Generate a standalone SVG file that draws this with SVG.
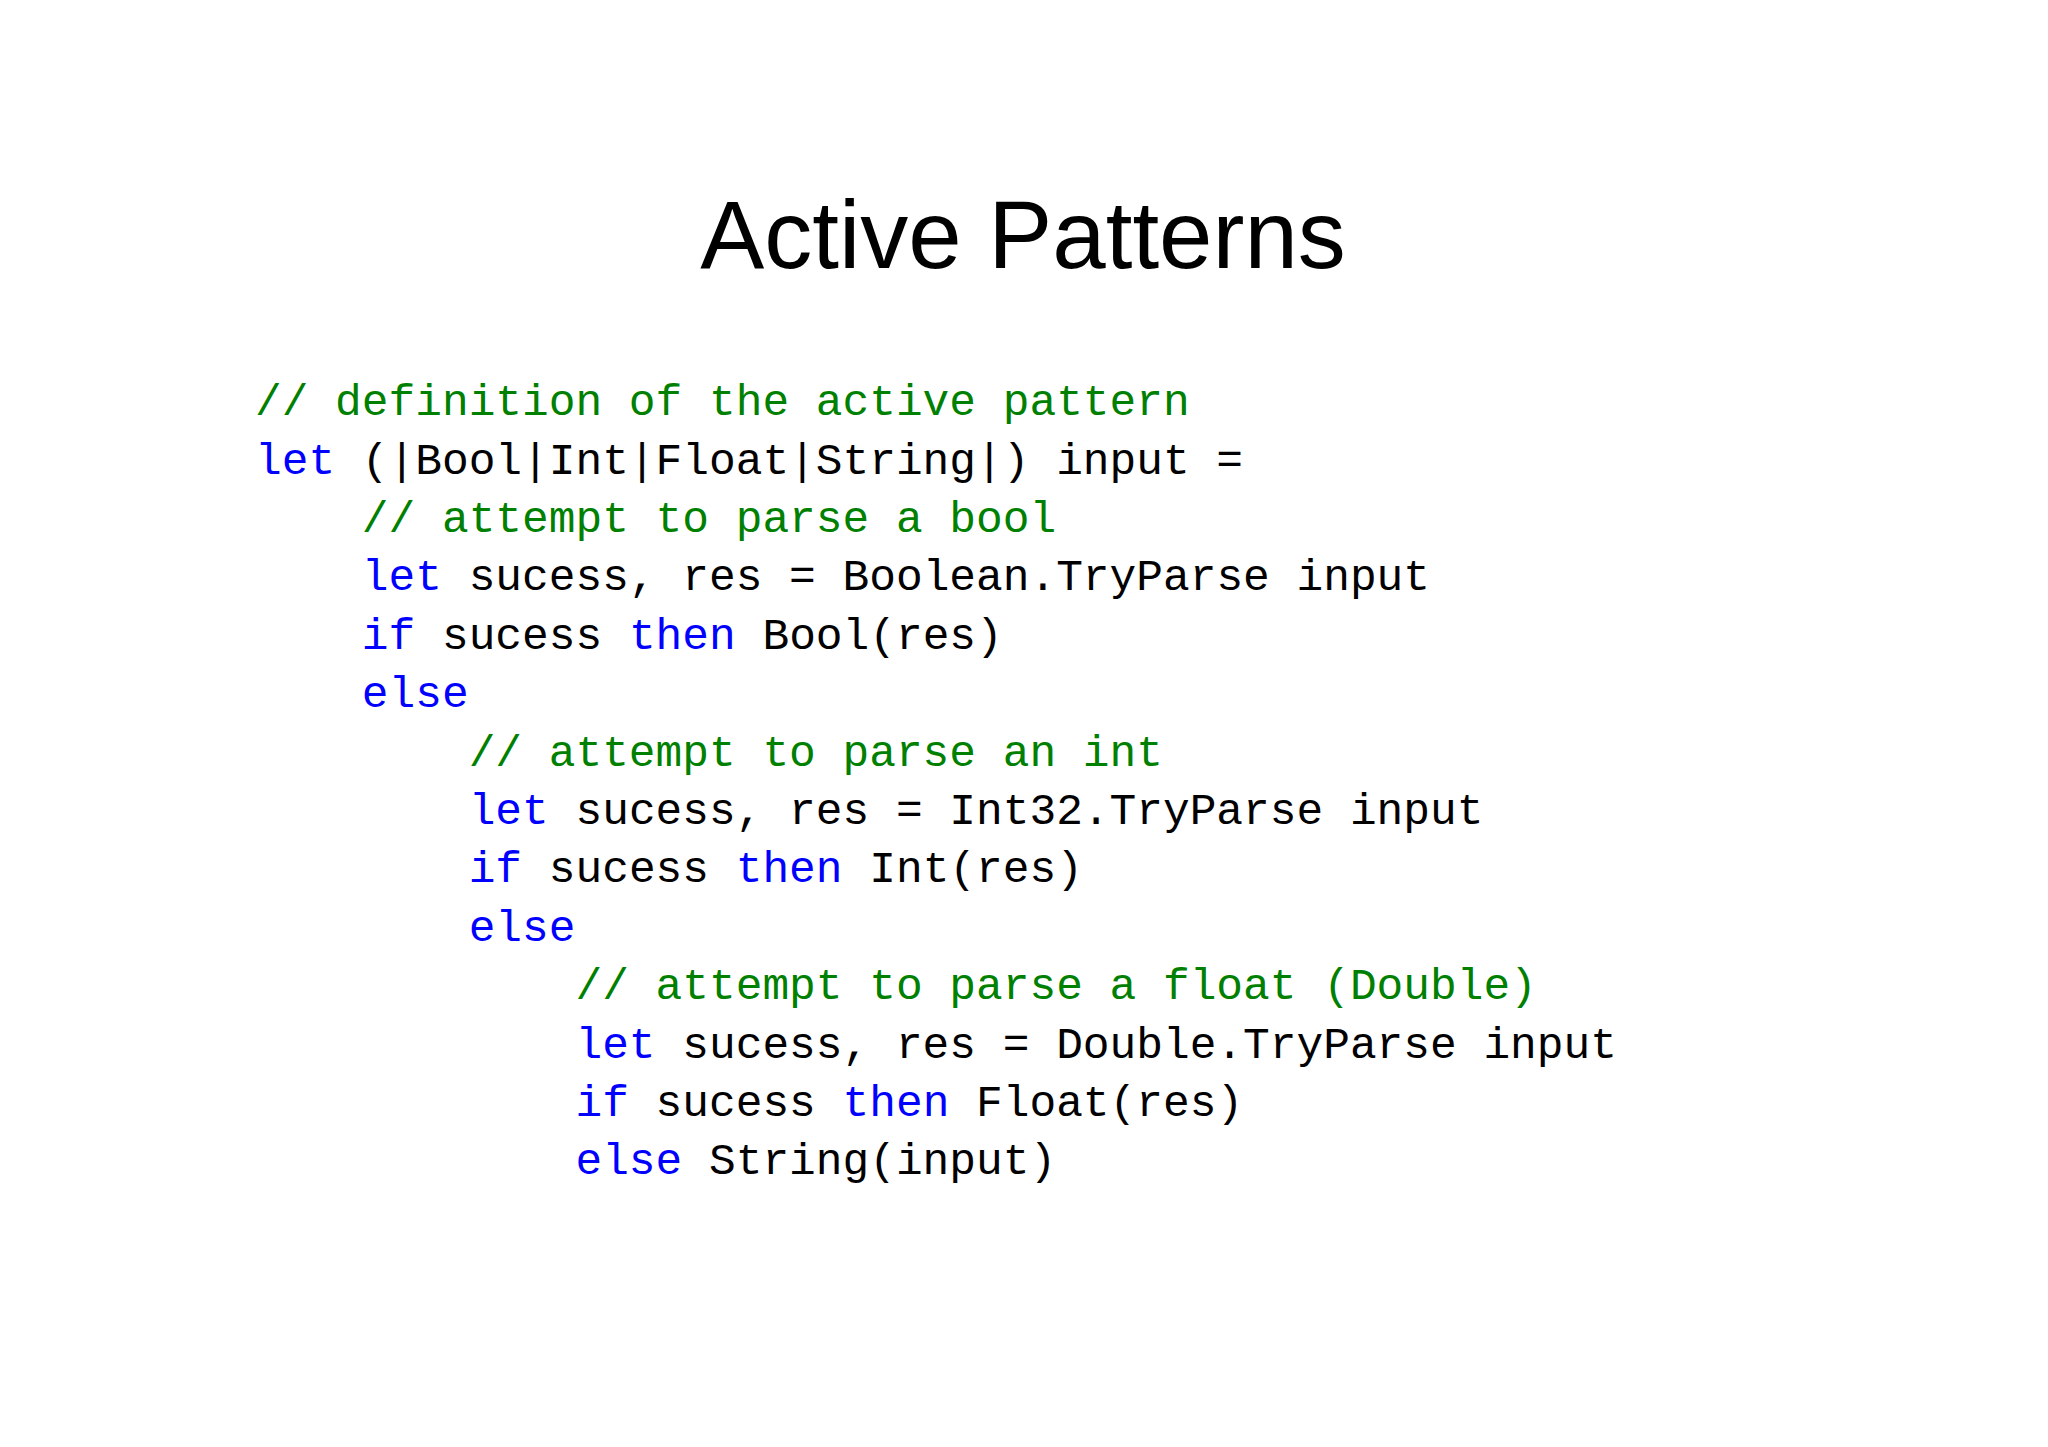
<svg xmlns="http://www.w3.org/2000/svg" width="2048" height="1447" viewBox="0 0 2048 1447">
<style>
.t{font-family:"Liberation Sans","Open Sans",sans-serif;font-size:96px;fill:#000}
.c{font-family:"Liberation Mono","DejaVu Sans Mono",monospace;font-size:44.5px;fill:#000;white-space:pre}
.g{fill:#008000}.k{fill:#0000ff}
</style>
<rect width="2048" height="1447" fill="#fff"/>
<text class="t" x="1023" y="268" text-anchor="middle">Active Patterns</text>
<g xml:space="preserve">
<text class="c" x="255" y="415"><tspan class="g">// definition of the active pattern</tspan></text>
<text class="c" x="255" y="474"><tspan class="k">let</tspan> (|Bool|Int|Float|String|) input =</text>
<text class="c" x="255" y="532">    <tspan class="g">// attempt to parse a bool</tspan></text>
<text class="c" x="255" y="590">    <tspan class="k">let</tspan> sucess, res = Boolean.TryParse input</text>
<text class="c" x="255" y="649">    <tspan class="k">if</tspan> sucess <tspan class="k">then</tspan> Bool(res)</text>
<text class="c" x="255" y="707">    <tspan class="k">else</tspan></text>
<text class="c" x="255" y="766">        <tspan class="g">// attempt to parse an int</tspan></text>
<text class="c" x="255" y="824">        <tspan class="k">let</tspan> sucess, res = Int32.TryParse input</text>
<text class="c" x="255" y="882">        <tspan class="k">if</tspan> sucess <tspan class="k">then</tspan> Int(res)</text>
<text class="c" x="255" y="941">        <tspan class="k">else</tspan></text>
<text class="c" x="255" y="999">            <tspan class="g">// attempt to parse a float (Double)</tspan></text>
<text class="c" x="255" y="1058">            <tspan class="k">let</tspan> sucess, res = Double.TryParse input</text>
<text class="c" x="255" y="1116">            <tspan class="k">if</tspan> sucess <tspan class="k">then</tspan> Float(res)</text>
<text class="c" x="255" y="1174">            <tspan class="k">else</tspan> String(input)</text>
</g>
</svg>
